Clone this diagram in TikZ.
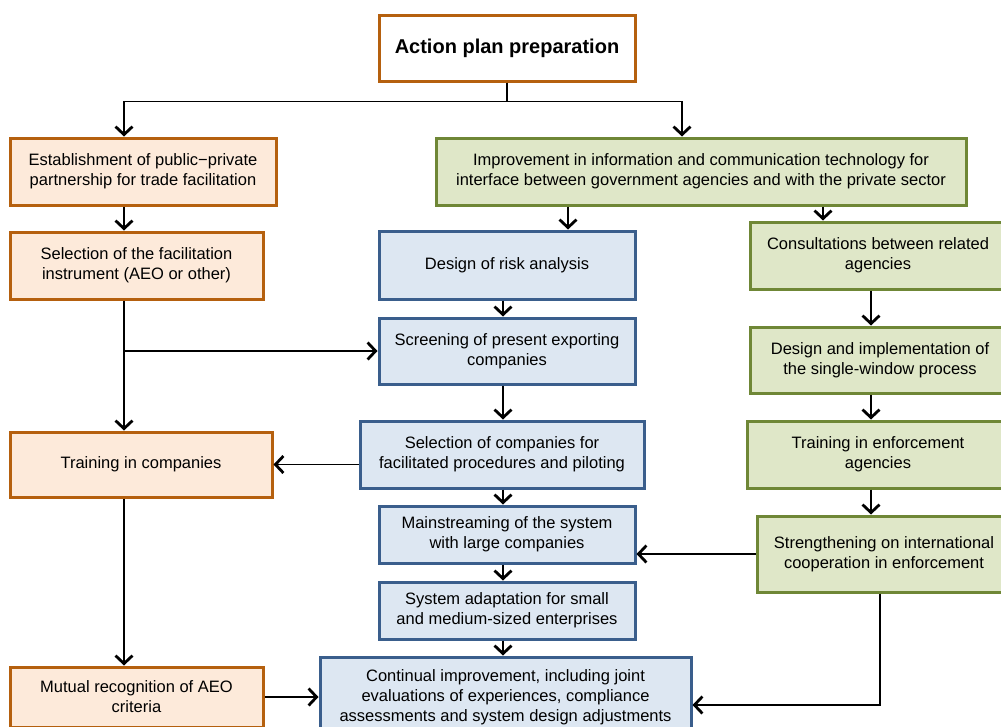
\documentclass[tikz,border=0pt]{standalone}
\usepackage{fontspec}
\setmainfont{Liberation Sans}
\usetikzlibrary{arrows.meta}
\definecolor{orline}{HTML}{B5600E}
\definecolor{orfill}{HTML}{FDEADA}
\definecolor{grline}{HTML}{6F8736}
\definecolor{grfill}{HTML}{DFE7C8}
\definecolor{blline}{HTML}{3A5E8C}
\definecolor{blfill}{HTML}{DDE7F2}

\begin{document}
\begin{tikzpicture}[x=1pt, y=-1pt,
  box/.style={draw, line width=3pt, align=center, inner sep=0pt,
    font=\fontsize{16.5}{20}\selectfont},
  titlebox/.style={box, draw=orline, fill=white, font=\fontsize{20}{24}\selectfont\bfseries},
  orbox/.style={box, draw=orline, fill=orfill},
  grbox/.style={box, draw=grline, fill=grfill},
  blbox/.style={box, draw=blline, fill=blfill},
  arr/.style={line width=1.7pt, -{Straight Barb[length=8pt,width=17pt,line width=2.8pt]}}]
  \path[use as bounding box, clip] (0,0) rectangle (1001,726);

  \node[titlebox, minimum width=256pt, minimum height=66pt] (plan) at (507,48) {Action plan preparation};

  \node[orbox, minimum width=266pt, minimum height=67pt] (ppp) at (143,171.5) {Establishment of public\textminus private\\partnership for trade facilitation};
  \node[orbox, minimum width=253pt, minimum height=67pt] (instr) at (136.5,265.5) {Selection of the facilitation\\instrument (AEO or other)};
  \node[orbox, minimum width=262pt, minimum height=65pt] (trainco) at (141,464.5) {Training in companies};
  \node[orbox, minimum width=253pt, minimum height=60pt] (mutual) at (136.5,697) {Mutual recognition of AEO\\criteria};

  \node[grbox, minimum width=530pt, minimum height=67pt] (ict) at (701,171.5) {Improvement in information and communication technology for\\interface between government agencies and with the private sector};
  \node[grbox, minimum width=256pt, minimum height=67pt] (consult) at (878,255.5) {Consultations between related\\agencies};
  \node[grbox, minimum width=260pt, minimum height=66pt] (single) at (880,360) {Design and implementation of\\the single-window process};
  \node[grbox, minimum width=262pt, minimum height=67pt] (trainenf) at (878,454.5) {Training in enforcement\\agencies};
  \node[grbox, minimum width=254pt, minimum height=76pt] (strength) at (884,554) {Strengthening on international\\cooperation in enforcement};

  \node[blbox, minimum width=256pt, minimum height=68pt] (risk) at (507,265) {Design of risk analysis};
  \node[blbox, minimum width=256pt, minimum height=66pt] (screen) at (507,351) {Screening of present exporting\\companies};
  \node[blbox, minimum width=284pt, minimum height=67pt] (selco) at (502,454.5) {Selection of companies for\\facilitated procedures and piloting};
  \node[blbox, minimum width=256pt, minimum height=57pt] (mainstr) at (507,534.5) {Mainstreaming of the system\\with large companies};
  \node[blbox, minimum width=256pt, minimum height=57pt] (smes) at (507,610.5) {System adaptation for small\\and medium-sized enterprises};
  \node[blbox, minimum width=371pt, minimum height=80pt] (contin) at (505.5,697) {Continual improvement, including joint\\evaluations of experiences, compliance\\assessments and system design adjustments};

  \coordinate (lcol) at (124,0);
  \coordinate (mcol) at (503,0);
  \coordinate (rcol) at (871,0);
  \coordinate (riskcol) at (568,0);
  \coordinate (conscol) at (823,0);
  \coordinate (fb) at (880,705);

  \draw[arr] (plan.south) -- ++(0,19) -| (lcol |- ppp.north);
  \draw[arr] (plan.south) -- ++(0,19) -| ([xshift=-19pt]ict.north);
  \draw[arr] (lcol |- ppp.south) -- (lcol |- instr.north);
  \draw[arr] (lcol |- instr.south) -- (lcol |- trainco.north);
  \draw[arr] (lcol |- screen.west) -- (screen.west);
  \draw[arr] (lcol |- trainco.south) -- (lcol |- mutual.north);
  \draw[arr] (mutual.east) -- (contin.west);
  \draw[arr] (selco.west |- trainco.east) -- (trainco.east);

  \draw[arr] (riskcol |- ict.south) -- (riskcol |- risk.north);
  \draw[arr] (conscol |- ict.south) -- (conscol |- consult.north);
  \foreach \a/\b in {consult/single, single/trainenf, trainenf/strength}
    \draw[arr] (rcol |- \a.south) -- (rcol |- \b.north);
  \foreach \a/\b in {risk/screen, screen/selco, selco/mainstr, mainstr/smes, smes/contin}
    \draw[arr] (mcol |- \a.south) -- (mcol |- \b.north);
  \draw[arr] (strength.west) -- (strength.west -| mainstr.east);
  \draw[arr] (fb |- strength.south) |- (fb -| contin.east);
\end{tikzpicture}
\end{document}
